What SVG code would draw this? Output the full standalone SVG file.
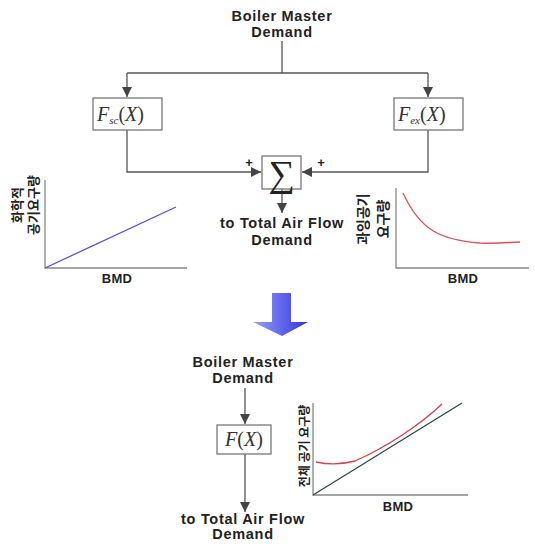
<svg xmlns="http://www.w3.org/2000/svg" width="535" height="544" viewBox="0 0 535 544">
<defs>
<marker id="ah" viewBox="0 0 10 10" refX="10" refY="5" markerWidth="10" markerHeight="10" markerUnits="userSpaceOnUse" orient="auto">
<path d="M0,0 L10,5 L0,10 z" fill="#444"/>
</marker>
<linearGradient id="bg" x1="0" y1="0" x2="1" y2="0">
<stop offset="0" stop-color="#9a9cff"/>
<stop offset="1" stop-color="#2f35d8"/>
</linearGradient>
<style>
.lbl{font-family:"Liberation Sans",Arial,sans-serif;font-weight:bold;font-size:14.5px;letter-spacing:0.7px;fill:#222;text-anchor:middle}
.bmd{font-family:"Liberation Sans",Arial,sans-serif;font-weight:bold;font-size:13px;letter-spacing:0.3px;fill:#222;text-anchor:middle}
.ko{font-family:"Noto Sans CJK KR",sans-serif;font-weight:bold;font-size:13px;fill:#222;text-anchor:middle}
.ko2{font-family:"Noto Sans CJK KR",sans-serif;font-weight:bold;font-size:14px;fill:#222;text-anchor:middle}
.math{font-family:"Liberation Serif","Times New Roman",serif;font-size:20px;fill:#333}
.box{fill:#fff;stroke:#777;stroke-width:1.3}
.ln{fill:none;stroke:#555;stroke-width:1.3}
.ax{fill:none;stroke:#888;stroke-width:1.3}
.pl{font-family:"Liberation Sans",Arial,sans-serif;font-weight:bold;font-size:13px;fill:#222;text-anchor:middle}
</style>
</defs>

<g id="connectors">
<path class="ln" d="M282,41 V73"/>
<path class="ln" d="M127,73 H428"/>
<path class="ln" d="M127,73 V97" marker-end="url(#ah)"/>
<path class="ln" d="M428,73 V97" marker-end="url(#ah)"/>
<path class="ln" d="M127,130 V172 H261" marker-end="url(#ah)"/>
<path class="ln" d="M428,130 V172 H302" marker-end="url(#ah)"/>
<path class="ln" d="M282,189 V213" marker-end="url(#ah)"/>
<path class="ln" d="M245,388 V424" marker-end="url(#ah)"/>
<path class="ln" d="M245,454 V512" marker-end="url(#ah)"/>
</g>

<g id="n-bmd-top">
<text class="lbl" x="282" y="21">Boiler Master</text>
<text class="lbl" x="282" y="37">Demand</text>
</g>

<g id="n-fsc">
<rect class="box" x="93" y="98" width="69" height="32"/>
<text class="math" x="97" y="121"><tspan font-style="italic">F</tspan><tspan font-style="italic" font-size="11" dy="3">sc</tspan><tspan dy="-3">(</tspan><tspan font-style="italic">X</tspan><tspan>)</tspan></text>
</g>

<g id="n-fex">
<rect class="box" x="394" y="98" width="69" height="32"/>
<text class="math" x="398" y="121"><tspan font-style="italic">F</tspan><tspan font-style="italic" font-size="11" dy="3">ex</tspan><tspan dy="-3">(</tspan><tspan font-style="italic">X</tspan><tspan>)</tspan></text>
</g>

<g id="n-sum">
<rect class="box" x="262" y="156" width="39" height="33"/>
<text x="281.5" y="186" font-family="Liberation Serif,serif" font-size="37" fill="#222" text-anchor="middle">∑</text>
<text class="pl" x="249" y="167">+</text>
<text class="pl" x="321" y="167">+</text>
</g>

<g id="n-out-top">
<text class="lbl" x="282" y="228">to Total Air Flow</text>
<text class="lbl" x="282" y="245">Demand</text>
</g>

<g id="plot-left">
<path class="ax" d="M45,180 V268 H187"/>
<path d="M45,268 L176,207" fill="none" stroke="#5a4fd8" stroke-width="1.3"/>
<text class="ko" transform="translate(22,205) rotate(-90)">화학적</text>
<text class="ko" transform="translate(38,205) rotate(-90)">공기요구량</text>
<text class="bmd" x="117" y="283">BMD</text>
</g>

<g id="plot-right">
<path class="ax" d="M396,188 V268 H529"/>
<path d="M403,193 C420,230 440,240 480,243 C500,244 510,242 520,242" fill="none" stroke="#e0505a" stroke-width="1.3"/>
<text class="ko2" transform="translate(368,219) rotate(-90)">과잉공기</text>
<text class="ko2" transform="translate(388,219) rotate(-90)">요구량</text>
<text class="bmd" x="463" y="283">BMD</text>
</g>

<g id="big-arrow">
<path d="M272,293 H291 V322 H308 L282,336 L253,322 H272 Z" fill="url(#bg)"/>
</g>

<g id="n-bmd-bottom">
<text class="lbl" x="243" y="367">Boiler Master</text>
<text class="lbl" x="243" y="383">Demand</text>
</g>

<g id="n-f">
<rect class="box" x="217" y="425" width="54" height="29"/>
<text class="math" x="244" y="446" text-anchor="middle"><tspan font-style="italic">F</tspan>(<tspan font-style="italic">X</tspan>)</text>
</g>

<g id="n-out-bottom">
<text class="lbl" x="243" y="524">to Total Air Flow</text>
<text class="lbl" x="243" y="539">Demand</text>
</g>

<g id="plot-bottom">
<path class="ax" d="M313,403 V495 H468"/>
<path d="M313,495 L462,403" fill="none" stroke="#2a4a40" stroke-width="1.3"/>
<path d="M316,462 C325,464 340,465 355,461 C385,448 420,425 442,404" fill="none" stroke="#d8404a" stroke-width="1.3"/>
<text class="ko" style="font-size:12px" transform="translate(309,446) rotate(-90)">전체 공기 요구량</text>
<text class="bmd" x="398" y="511">BMD</text>
</g>
</svg>
